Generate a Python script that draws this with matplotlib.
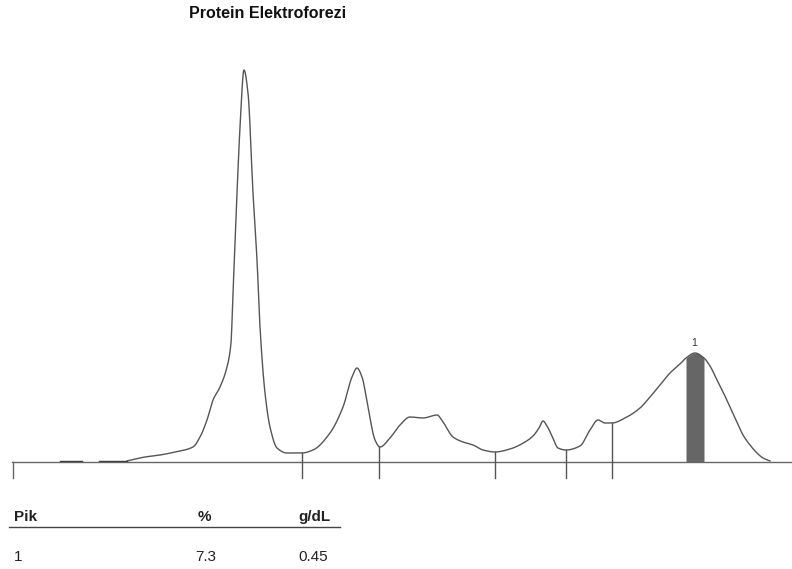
import numpy as np
import matplotlib
matplotlib.use("Agg")
import matplotlib.pyplot as plt

plt.rcParams['font.family'] = ['Liberation Sans', 'DejaVu Sans']

# densitometry trace: position along the gel / height above baseline
trace_x = [127, 145, 160, 175, 193, 200, 207, 213, 220, 227, 231, 233, 237, 240, 244,
           248, 253, 257, 260, 265, 270, 277, 287, 302, 313, 330, 343, 352, 357, 362,
           368, 375, 380, 390, 400, 410, 423, 437, 443, 453, 463, 473, 483, 495, 510,
           525, 533, 539, 543, 547, 552, 558, 566, 580, 590, 598, 605, 612, 625, 640,
           650, 660, 670, 680, 686, 695, 704, 710, 717, 724, 730, 737, 743, 750, 757,
           763, 770]
trace_y = [1, 5, 7, 10, 15, 25, 42, 62, 75, 95, 119, 169, 269, 335, 392,
           369, 269, 202, 135, 69, 35, 14, 9, 9, 12, 29, 55, 85, 94, 85,
           55, 22, 15, 24, 37, 45, 44, 47, 40, 25, 20, 17, 12, 10, 13,
           20, 26, 34, 41, 36, 26, 14, 12, 16, 32, 42, 39, 39, 44, 54,
           65, 77, 89, 98, 104, 109, 104, 96, 82, 68, 55, 40, 27, 17, 9,
           4, 1]
# short dashes before the trace starts
dash_segments = [(60, 82), (99, 127)]

# fraction boundaries
split_x = [302, 379, 495, 566, 612]
# highlighted peak
peak_from, peak_to = 686, 704
peak_label = "1"

table_header = ["Pik", "%", "g/dL"]
table_rows = [["1", "7.3", "0.45"]]
title = "Protein Elektroforezi"


def pchip(x, y, xs):
    # monotone cubic, only used to draw a smooth trace through the read points
    x = np.asarray(x, float)
    y = np.asarray(y, float)
    h = np.diff(x)
    delta = np.diff(y) / h
    d = np.zeros_like(y)
    d[0], d[-1] = delta[0], delta[-1]
    for k in range(1, len(x) - 1):
        if delta[k - 1] * delta[k] > 0:
            w1 = 2 * h[k] + h[k - 1]
            w2 = h[k] + 2 * h[k - 1]
            d[k] = (w1 + w2) / (w1 / delta[k - 1] + w2 / delta[k])
    idx = np.clip(np.searchsorted(x, xs) - 1, 0, len(x) - 2)
    t = (xs - x[idx]) / h[idx]
    h00 = 2 * t**3 - 3 * t**2 + 1
    h10 = t**3 - 2 * t**2 + t
    h01 = -2 * t**3 + 3 * t**2
    h11 = t**3 - t**2
    return (h00 * y[idx] + h10 * h[idx] * d[idx] + h01 * y[idx + 1]
            + h11 * h[idx] * d[idx + 1])


fig = plt.figure(figsize=(7.92, 5.69), dpi=100)
ax = fig.add_axes([0, 0, 1, 1])
ax.set_xlim(0, 792)
ax.set_ylim(462 - 569, 462)
ax.axis('off')

line_col = '#555555'
fine_x = np.linspace(trace_x[0], trace_x[-1], 2000)
fine_y = pchip(trace_x, trace_y, fine_x)
ax.plot(fine_x, fine_y, color=line_col, lw=1.0)
for a, b in dash_segments:
    ax.plot([a, b], [1, 1], color='#333333', lw=1.0)

# baseline and tick at start
ax.plot([12, 792], [0, 0], color='#666666', lw=1.0)
ax.plot([13, 13], [0, -16], color='#666666', lw=1.0)

for sx in split_x:
    top = np.interp(sx, fine_x, fine_y)
    ax.plot([sx, sx], [top, -16], color='#555555', lw=1.0)

xs = np.linspace(peak_from, peak_to, 40)
ax.fill_between(xs, 0, np.interp(xs, fine_x, fine_y), color='#666666', lw=0)
ax.text(694, 119, peak_label, ha='center', va='center', fontsize=7.5, color='#333333')

fig.text(268 / 792, 1 - 14 / 569, title, ha='center', va='center',
         fontsize=11.5, fontweight='bold', color='#111111')

# results table
fig.text(14 / 792, 1 - 517 / 569, table_header[0], ha='left', va='center',
         fontsize=11, fontweight='bold', color='#222222')
fig.text(204 / 792, 1 - 517 / 569, table_header[1], ha='center', va='center',
         fontsize=11, fontweight='bold', color='#222222')
fig.text(298 / 792, 1 - 517 / 569, table_header[2], ha='left', va='center',
         fontsize=11, fontweight='bold', color='#222222')
fig.add_artist(plt.Line2D([9 / 792, 340 / 792], [1 - 527 / 569, 1 - 527 / 569],
                          color='#444444', lw=1.0))
col_x = [14, 195, 298]
for i, row in enumerate(table_rows):
    yy = 1 - (557 + 30 * i) / 569
    for j, val in enumerate(row):
        fig.text(col_x[j] / 792, yy, val, ha='left', va='center', fontsize=11,
                 color='#222222')

fig.savefig("out.png", dpi=100)
